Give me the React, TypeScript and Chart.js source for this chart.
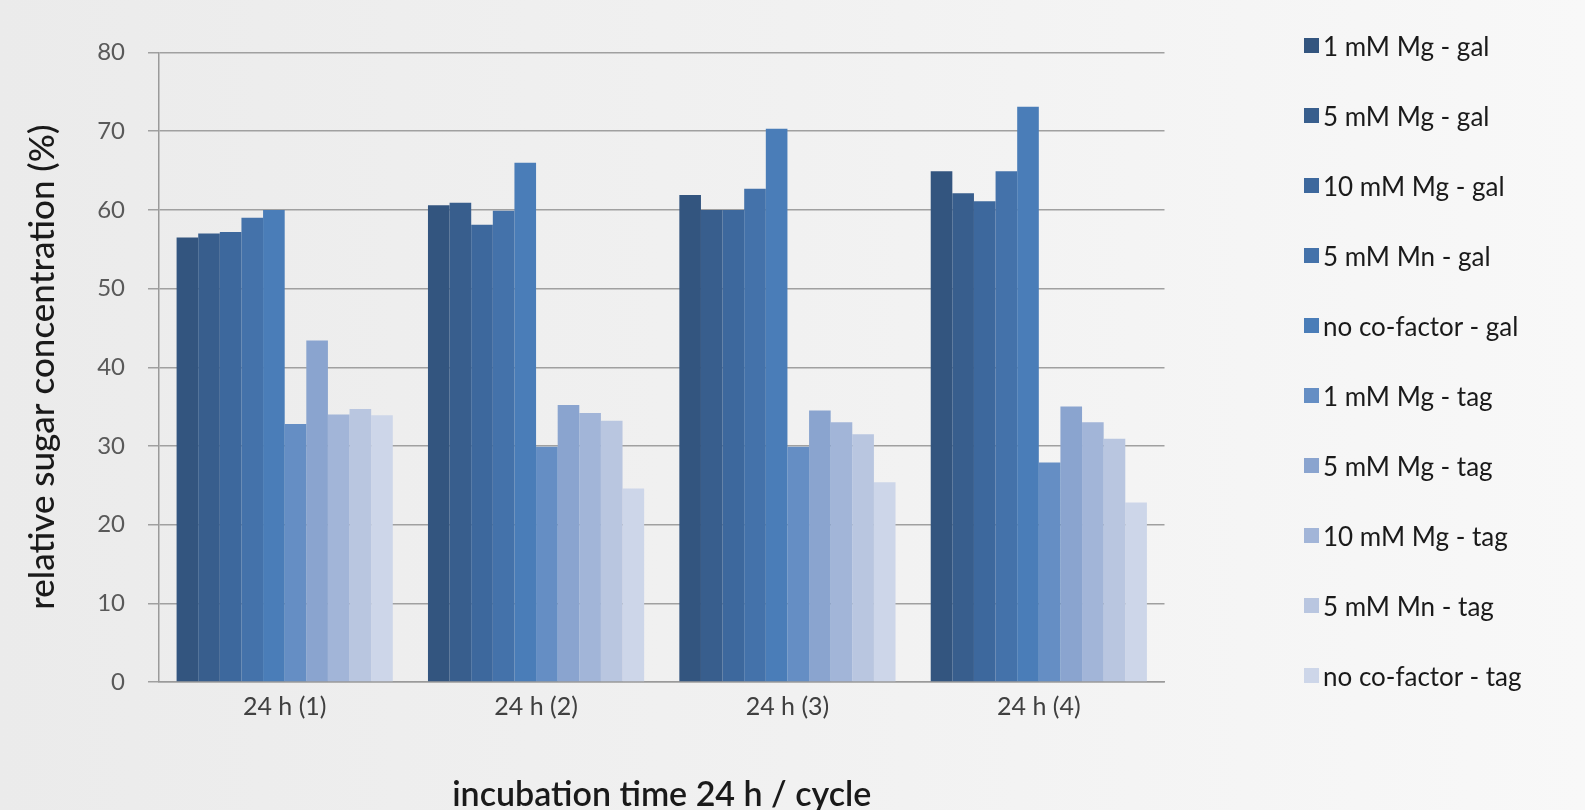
import React, { useEffect, useRef } from "react";
import { Chart, registerables } from "chart.js";

Chart.register(...registerables);

const categories = ["24 h (1)", "24 h (2)", "24 h (3)", "24 h (4)"];
const seriesNames = [
  "1 mM Mg - gal",
  "5 mM Mg - gal",
  "10 mM Mg - gal",
  "5 mM Mn - gal",
  "no co-factor - gal",
  "1 mM Mg - tag",
  "5 mM Mg - tag",
  "10 mM Mg - tag",
  "5 mM Mn - tag",
  "no co-factor - tag",
];
const mg1Gal = [56.5, 60.6, 61.9, 64.9];
const mg5Gal = [57.0, 60.9, 60.0, 62.1];
const mg10Gal = [57.2, 58.1, 60.0, 61.1];
const mn5Gal = [59.0, 59.9, 62.7, 64.9];
const noCoGal = [60.0, 66.0, 70.3, 73.1];
const mg1Tag = [32.8, 29.9, 29.9, 27.9];
const mg5Tag = [43.4, 35.2, 34.5, 35.0];
const mg10Tag = [34.0, 34.2, 33.0, 33.0];
const mn5Tag = [34.7, 33.2, 31.5, 30.9];
const noCoTag = [33.9, 24.6, 25.4, 22.8];
const seriesValues = [mg1Gal, mg5Gal, mg10Gal, mn5Gal, noCoGal, mg1Tag, mg5Tag, mg10Tag, mn5Tag, noCoTag];
const seriesColors = [
  "#33557f",
  "#385e8d",
  "#3d689d",
  "#4472aa",
  "#4a7db8",
  "#658ec4",
  "#8aa4cf",
  "#a2b5d8",
  "#b9c6e0",
  "#cdd6e9",
];
const yTicks = [0, 10, 20, 30, 40, 50, 60, 70, 80];

const FONT = "Lato, 'Open Sans', sans-serif";

export default function App() {
  const ref = useRef<HTMLCanvasElement | null>(null);

  useEffect(() => {
    document.body.style.margin = "0";
    const canvas = ref.current;
    if (!canvas) return;
    const chart = new Chart(canvas, {
      type: "bar",
      data: {
        labels: categories,
        datasets: seriesNames.map((name, i) => ({
          label: name,
          data: seriesValues[i],
          backgroundColor: seriesColors[i],
          borderWidth: 0,
          barPercentage: 1,
          categoryPercentage: 0.86,
        })),
      },
      options: {
        animation: false,
        responsive: true,
        maintainAspectRatio: false,
        layout: { padding: { left: 0, right: 420.5, top: 52.5, bottom: 0 } },
        plugins: {
          legend: { display: false },
          tooltip: { enabled: false },
        },
        scales: {
          x: {
            grid: { display: false, drawTicks: false },
            border: { display: true, color: "#9a9a9a", width: 1.5 },
            ticks: {
              color: "#404040",
              font: { family: FONT, size: 25 },
              padding: 10,
            },
            title: {
              display: true,
              text: "incubation time 24 h / cycle",
              color: "#1a1a1a",
              font: { family: FONT, size: 34, weight: "600" },
              padding: { top: 0, bottom: -5 },
            },
            afterFit: (scale: any) => {
              scale.height = 128;
            },
          },
          y: {
            min: 0,
            max: 80,
            afterBuildTicks: (scale: any) => {
              scale.ticks = yTicks.map((v) => ({ value: v }));
            },
            grid: {
              color: "#a0a0a0",
              lineWidth: 1.5,
              tickLength: 11,
              drawTicks: true,
            },
            border: { display: true, color: "#9a9a9a", width: 1.5 },
            ticks: {
              color: "#595959",
              font: { family: FONT, size: 24 },
              padding: 23,
            },
            title: {
              display: true,
              text: "relative sugar concentration (%)",
              color: "#1a1a1a",
              font: { family: FONT, size: 35, weight: "500" },
              padding: { top: 22, bottom: 0 },
            },
            afterFit: (scale: any) => {
              scale.width = 159;
            },
          },
        },
      },
    });
    return () => chart.destroy();
  }, []);

  return (
    <div
      style={{
        position: "absolute",
        left: 0,
        top: 0,
        width: 1585,
        height: 810,
        overflow: "hidden",
        background: "linear-gradient(to right, #ebebeb 0%, #f1f1f1 50%, #f8f8f8 100%)",
      }}
    >
      <canvas ref={ref} />
      {seriesNames.map((name, i) => (
        <div
          key={name}
          style={{
            position: "absolute",
            left: 1304,
            top: 45.5 + i * 70 - 17,
            height: 34,
            display: "flex",
            alignItems: "center",
            whiteSpace: "nowrap",
            fontFamily: FONT,
            fontSize: 26,
            color: "#1a1a1a",
          }}
        >
          <span
            style={{
              display: "inline-block",
              width: 15,
              height: 15,
              background: seriesColors[i],
              marginRight: 4,
            }}
          />
          <span>{name}</span>
        </div>
      ))}
    </div>
  );
}
